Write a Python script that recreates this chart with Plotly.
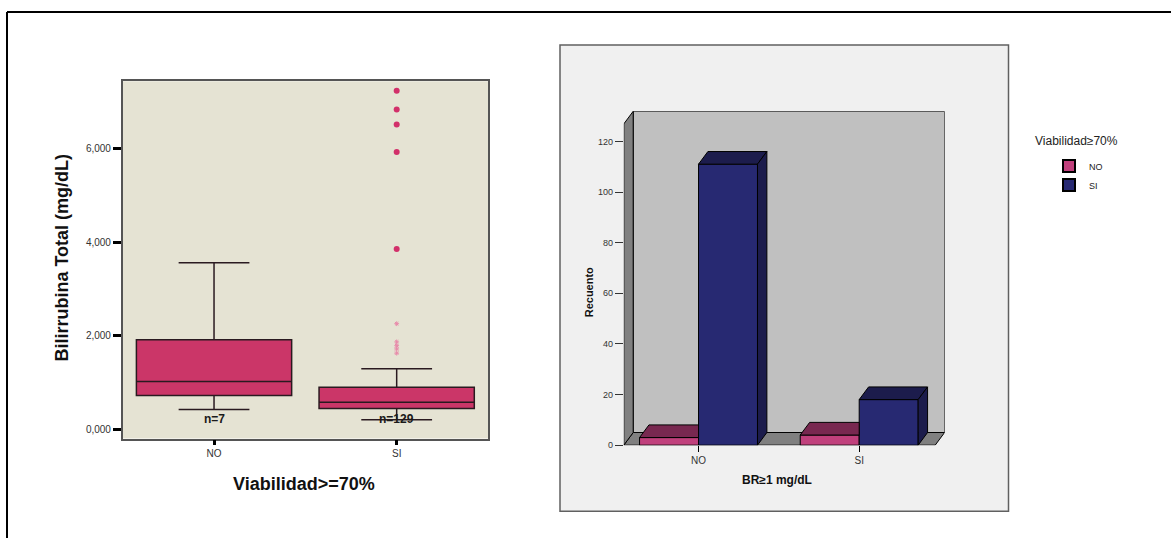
import plotly.graph_objects as go

W, H = 1171, 543

# ---------------- data: box plot (Bilirrubina total by Viabilidad>=70%) ----------------
box_groups = ["NO", "SI"]
box_q1 = [726, 444]
box_median = [1022, 578]
box_q3 = [1918, 902]
box_lower = [423, 203]
box_upper = [3562, 1297]
box_n = [7, 129]
si_extremes = [7244, 6842, 6525, 5932, 3858]
si_outliers = [2260, 1870, 1790, 1720, 1630]
y_tickvals = [0, 2000, 4000, 6000]
y_ticktext = ["0,000", "2,000", "4,000", "6,000"]

# ---------------- data: 3D bar chart (Recuento by BR>=1 mg/dL) ----------------
br_categories = ["NO", "SI"]
count_viab_no = [3, 4]
count_viab_si = [111, 18]
bar_tickvals = [0, 20, 40, 60, 80, 100, 120]

FONT = "Liberation Sans, Arial, sans-serif"

def px_x(p):
    return p / W

def px_y(p):
    return 1 - p / H

fig = go.Figure()

# ---------------- left: box plot ----------------
box_fill = "#CB3668"
for i, g in enumerate(box_groups):
    fig.add_trace(go.Box(
        x=[g], q1=[box_q1[i]], median=[box_median[i]], q3=[box_q3[i]],
        lowerfence=[box_lower[i]], upperfence=[box_upper[i]],
        boxpoints=False, width=0.85, whiskerwidth=0.456,
        fillcolor=box_fill, line=dict(color="#2a1a20", width=1.5),
        xaxis="x", yaxis="y", showlegend=False, hoverinfo="skip"))

fig.add_trace(go.Scatter(
    x=["SI"] * len(si_extremes), y=si_extremes, mode="markers",
    marker=dict(symbol="circle", size=6, color="#D2306A"),
    xaxis="x", yaxis="y", showlegend=False, hoverinfo="skip"))
fig.add_trace(go.Scatter(
    x=["SI"] * len(si_outliers), y=si_outliers, mode="markers",
    marker=dict(symbol="asterisk-open", size=4, color="#E88AAA",
                line=dict(color="#E88AAA", width=1)),
    xaxis="x", yaxis="y", showlegend=False, hoverinfo="skip"))

# ---------------- right: 3D-style bar chart ----------------
bar_w = 0.367
dx = 0.0585          # depth offset in x data units
dy = 5.0             # depth offset in y data units
x_front_left, x_front_right = -0.465, 1.473
y_top = 131.9

col_no_front, col_no_top = "#C0407C", "#782850"
col_si_front, col_si_top = "#272972", "#1C1C4C"

xpos = list(range(len(br_categories)))

fig.add_trace(go.Bar(
    x=xpos, y=count_viab_no, width=bar_w, offset=-bar_w, name="NO",
    marker=dict(color=col_no_front, line=dict(color="black", width=1)),
    xaxis="x2", yaxis="y2", hoverinfo="skip"))
fig.add_trace(go.Bar(
    x=xpos, y=count_viab_si, width=bar_w, offset=0, name="SI",
    marker=dict(color=col_si_front, line=dict(color="black", width=1)),
    xaxis="x2", yaxis="y2", hoverinfo="skip"))

def poly(xs, ys, color):
    fig.add_trace(go.Scatter(
        x=xs + [xs[0]], y=ys + [ys[0]], mode="lines", fill="toself",
        fillcolor=color, line=dict(color="black", width=1),
        xaxis="x2", yaxis="y2", showlegend=False, hoverinfo="skip"))

for i in xpos:
    # NO bar (left of the pair): top face clipped by the taller SI bar in front-right
    v = count_viab_no[i]
    xl, xr = i - bar_w, i
    vs = count_viab_si[i]
    if vs >= v:
        poly([xl, xr, xr, xl + dx], [v, v, v + dy, v + dy], col_no_top)
    else:
        poly([xl, xr, xr + dx, xl + dx], [v, v, v + dy, v + dy], col_no_top)
    # SI bar (right of the pair): top + side faces
    xl, xr = i, i + bar_w
    poly([xl, xr, xr + dx, xl + dx], [vs, vs, vs + dy, vs + dy], col_si_top)
    poly([xr, xr + dx, xr + dx, xr], [0, dy, vs + dy, vs], col_si_top)

shapes = []
# outer frame lines
shapes.append(dict(type="line", xref="paper", yref="paper", x0=px_x(7), x1=1.0,
                   y0=px_y(12), y1=px_y(12), line=dict(color="black", width=2), layer="above"))
shapes.append(dict(type="line", xref="paper", yref="paper", x0=px_x(7), x1=px_x(7),
                   y0=px_y(12), y1=0, line=dict(color="black", width=2), layer="above"))
# right panel frame
shapes.append(dict(type="rect", xref="paper", yref="paper", x0=px_x(560), x1=px_x(1008.5),
                   y0=px_y(516), y1=px_y(45.3), fillcolor="#F0F0F0",
                   line=dict(color="#606060", width=1.5), layer="below"))
# left plot background
shapes.append(dict(type="rect", xref="x domain", yref="y domain", x0=0, x1=1, y0=0, y1=1,
                   fillcolor="#E5E3D3", line=dict(width=0), layer="below"))
# 3D walls
xb_l, xb_r = x_front_left + dx, x_front_right + dx
shapes.append(dict(type="path", xref="x2", yref="y2", layer="below",
                   path=f"M{xb_l},{dy} L{xb_r},{dy} L{xb_r},{y_top} L{xb_l},{y_top} Z",
                   fillcolor="#C0C0C0", line=dict(color="black", width=1)))
shapes.append(dict(type="path", xref="x2", yref="y2", layer="below",
                   path=f"M{x_front_left},0 L{x_front_right},0 L{xb_r},{dy} L{xb_l},{dy} Z",
                   fillcolor="#808080", line=dict(color="black", width=1)))
shapes.append(dict(type="path", xref="x2", yref="y2", layer="below",
                   path=f"M{x_front_left},0 L{xb_l},{dy} L{xb_l},{y_top} L{x_front_left},{y_top - dy} Z",
                   fillcolor="#808080", line=dict(color="black", width=1)))

def ann(x, y, text, size, angle=0, xanchor="center", color="#111"):
    return dict(x=px_x(x), y=px_y(y), xref="paper", yref="paper", text=text,
                textangle=angle, showarrow=False, xanchor=xanchor, yanchor="middle",
                font=dict(size=size, color=color, family=FONT))

annotations = []
for i, n in enumerate(box_n):
    annotations.append(dict(x=i, y=225, xref="x", yref="y", text=f"<b>n={n}</b>",
                            showarrow=False, xanchor="center", yanchor="middle",
                            font=dict(size=12, color="#1a1a1a", family=FONT)))
annotations.append(ann(62, 260, "<b>Bilirrubina Total (mg/dL)</b>", 18, angle=-90))
annotations.append(ann(304, 488, "<b>Viabilidad>=70%</b>", 18))
annotations.append(ann(589, 295, "<b>Recuento</b>", 11, angle=-90))
annotations.append(ann(777, 484, "<b>BR≥1 mg/dL</b>", 12))
annotations.append(ann(1033, 142, "Viabilidad≥70%", 12, xanchor="left", color="#222"))

fig.update_layout(
    width=W, height=H, margin=dict(l=0, r=0, t=0, b=0),
    paper_bgcolor="white", plot_bgcolor="rgba(0,0,0,0)",
    font=dict(family=FONT, color="#222"),
    barmode="overlay", boxmode="overlay",
    shapes=shapes, annotations=annotations,
    legend=dict(x=px_x(1049), y=px_y(153), xanchor="left", yanchor="top",
                bgcolor="rgba(0,0,0,0)", font=dict(size=9, color="#222"),
                tracegroupgap=0, itemsizing="constant"),
    xaxis=dict(domain=[px_x(122.7), px_x(488)], type="category",
               categoryorder="array", categoryarray=box_groups, range=[-0.5, 1.5],
               showgrid=False, zeroline=False,
               showline=True, mirror=True, linecolor="#555", linewidth=1.5,
               ticks="outside", ticklen=5, tickwidth=2.5, tickcolor="black",
               tickfont=dict(size=10, color="#333")),
    yaxis=dict(domain=[px_y(442.7), px_y(82)], range=[-199, 7448],
               showgrid=False, zeroline=False,
               showline=True, mirror=True, linecolor="#555", linewidth=1.5,
               tickvals=y_tickvals, ticktext=y_ticktext,
               ticks="outside", ticklen=8, tickwidth=2.5, tickcolor="black",
               tickfont=dict(size=10, color="#333")),
    xaxis2=dict(domain=[px_x(623.8), px_x(944.6)], range=[x_front_left, x_front_right + dx],
                anchor="y2", showgrid=False, zeroline=False, showline=False,
                tickvals=xpos, ticktext=br_categories,
                ticks="outside", ticklen=6, tickwidth=1, tickcolor="black",
                tickfont=dict(size=10, color="#333")),
    yaxis2=dict(domain=[px_y(449.3), px_y(112.3)], range=[0, y_top],
                anchor="x2", showgrid=False, zeroline=False, showline=False,
                tickvals=bar_tickvals,
                ticks="outside", ticklen=8, tickwidth=1, tickcolor="#333",
                tickfont=dict(size=9, color="#333")),
)

fig.write_html("out.html", config={"displayModeBar": False},
               post_script="document.body.style.margin='0';document.body.style.overflow='hidden';")
